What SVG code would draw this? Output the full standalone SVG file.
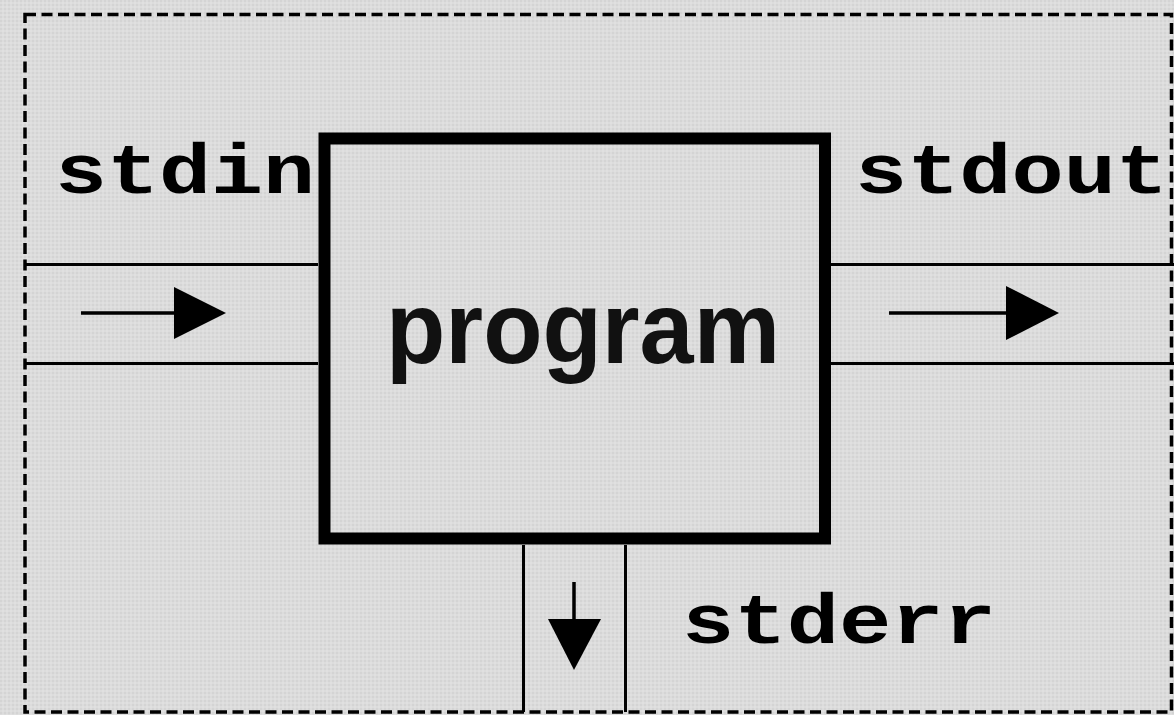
<svg xmlns="http://www.w3.org/2000/svg" width="1174" height="715" viewBox="0 0 1174 715">
  <style>
    .mono { font-family: "Liberation Mono", "DejaVu Sans Mono", monospace; font-weight: bold; fill: #000; }
    .sans { font-family: "Liberation Sans", Arial, sans-serif; font-weight: bold; fill: #111; }
    .pipe { stroke: #000; stroke-width: 3; fill: none; }
    .flow { stroke: #000; stroke-width: 3.5; fill: none; }
    .head { fill: #000; }
  </style>
  <defs>
    <pattern id="bg" width="4" height="4" patternUnits="userSpaceOnUse">
      <rect width="4" height="4" fill="#dcdcdc"/>
      <rect x="0" y="0" width="2" height="2" fill="#d4d4d4"/>
      <rect x="2" y="2" width="2" height="2" fill="#e0e0e0"/>
    </pattern>
  </defs>
  <rect x="0" y="0" width="1174" height="715" fill="url(#bg)"/>
  <g id="frame">
    <rect x="25" y="14.5" width="1146.5" height="697.5" fill="none" stroke="#000" stroke-width="3.5" stroke-dasharray="11 5.5"/>
  </g>
  <g id="connectors">
    <line class="pipe" x1="25" y1="264.5" x2="318" y2="264.5"/>
    <line class="pipe" x1="25" y1="363.5" x2="318" y2="363.5"/>
    <line class="flow" x1="81" y1="313" x2="176" y2="313"/>
    <polygon class="head" points="174,287 226,313 174,339"/>
    <line class="pipe" x1="831" y1="264.5" x2="1174" y2="264.5"/>
    <line class="pipe" x1="831" y1="363.5" x2="1174" y2="363.5"/>
    <line class="flow" x1="889" y1="313" x2="1008" y2="313"/>
    <polygon class="head" points="1006,286 1059,313 1006,340"/>
    <line class="pipe" x1="523.5" y1="545" x2="523.5" y2="712"/>
    <line class="pipe" x1="625.5" y1="545" x2="625.5" y2="712"/>
    <line class="flow" x1="574" y1="582" x2="574" y2="621"/>
    <polygon class="head" points="548,619 601,619 574,670"/>
  </g>
  <g id="program">
    <rect x="324.5" y="138.5" width="500.5" height="400" fill="none" stroke="#000" stroke-width="12"/>
    <text class="sans" x="386" y="363" font-size="102" textLength="394" lengthAdjust="spacingAndGlyphs">program</text>
  </g>
  <g id="stdin">
    <text class="mono" x="55" y="193" font-size="71" textLength="260" lengthAdjust="spacingAndGlyphs">stdin</text>
  </g>
  <g id="stdout">
    <text class="mono" x="855" y="193" font-size="71" textLength="313" lengthAdjust="spacingAndGlyphs">stdout</text>
  </g>
  <g id="stderr">
    <text class="mono" x="682" y="643" font-size="71" textLength="314" lengthAdjust="spacingAndGlyphs">stderr</text>
  </g>
</svg>
